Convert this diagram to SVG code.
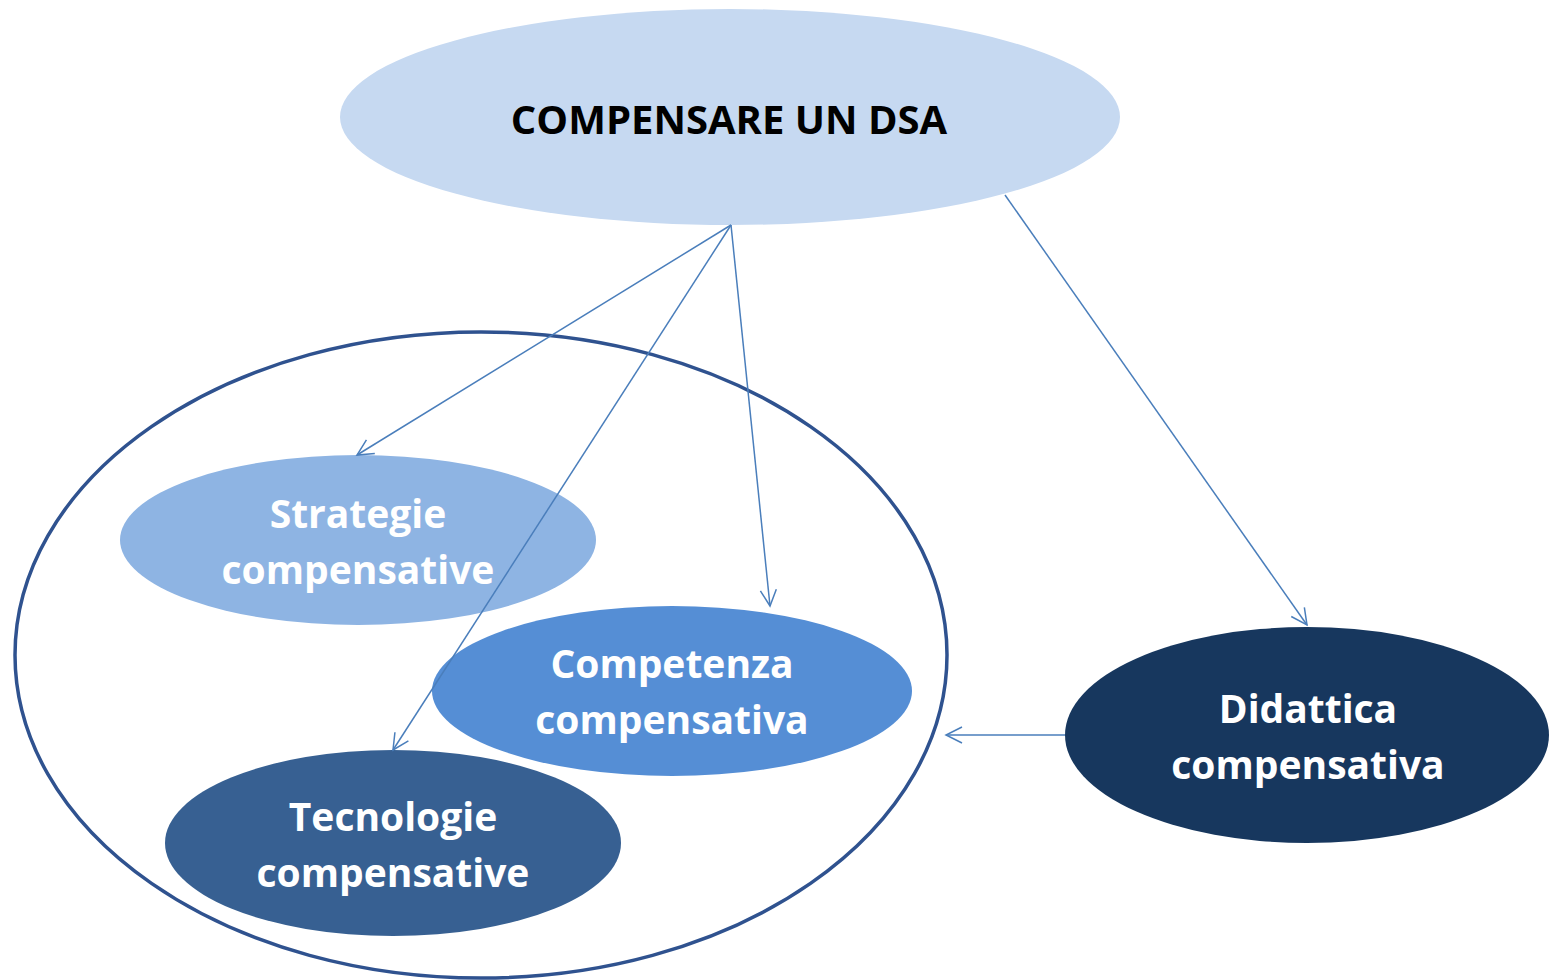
<svg xmlns="http://www.w3.org/2000/svg" width="1549" height="980" viewBox="0 0 1549 980">
<defs>
<style>
.lbl{font-family:"Open Sans","Liberation Sans",sans-serif;font-weight:bold;font-size:39px;fill:#ffffff;text-anchor:middle}
.title{font-family:"Open Sans","Liberation Sans",sans-serif;font-weight:bold;font-size:40px;fill:#000000;text-anchor:middle}
.conn{stroke:#4a7ebb;stroke-width:1.5;fill:none;marker-end:url(#arr)}
</style>
<marker id="arr" viewBox="0 0 20 20" refX="18" refY="10" markerWidth="20" markerHeight="20" markerUnits="userSpaceOnUse" orient="auto">
<path d="M2,2 L18,10 L2,18" fill="none" stroke="#4a7ebb" stroke-width="1.5"/>
</marker>
</defs>
<rect width="1549" height="980" fill="#ffffff"/>
<g id="group-outline">
<ellipse cx="481" cy="655" rx="466" ry="323" fill="none" stroke="#2f528f" stroke-width="3.5"/>
</g>
<g id="node-strategie">
<ellipse cx="358" cy="540" rx="238" ry="85" fill="#8eb4e3"/>
<text class="lbl" x="358" y="528">Strategie</text>
<text class="lbl" x="358" y="584">compensative</text>
</g>
<g id="node-competenza">
<ellipse cx="672" cy="691" rx="240" ry="85" fill="#558ed5"/>
<text class="lbl" x="672" y="678">Competenza</text>
<text class="lbl" x="672" y="734">compensativa</text>
</g>
<g id="node-tecnologie">
<ellipse cx="393" cy="843" rx="228" ry="93" fill="#376092"/>
<text class="lbl" x="393" y="831">Tecnologie</text>
<text class="lbl" x="393" y="887">compensative</text>
</g>
<g id="node-didattica">
<ellipse cx="1307" cy="735" rx="242" ry="108" fill="#17375e"/>
<text class="lbl" x="1308" y="723">Didattica</text>
<text class="lbl" x="1308" y="779">compensativa</text>
</g>
<g id="node-root">
<ellipse cx="730" cy="117" rx="390" ry="108" fill="#c6d9f1"/>
<text class="title" x="729" y="134">COMPENSARE UN DSA</text>
</g>
<g id="connectors">
<line class="conn" x1="731" y1="225" x2="357" y2="455"/>
<line class="conn" x1="731" y1="225" x2="393" y2="750"/>
<line class="conn" x1="731" y1="225" x2="770" y2="606"/>
<line class="conn" x1="1005" y1="195" x2="1307" y2="625"/>
<line class="conn" x1="1065" y1="735" x2="946" y2="735"/>
</g>
</svg>
